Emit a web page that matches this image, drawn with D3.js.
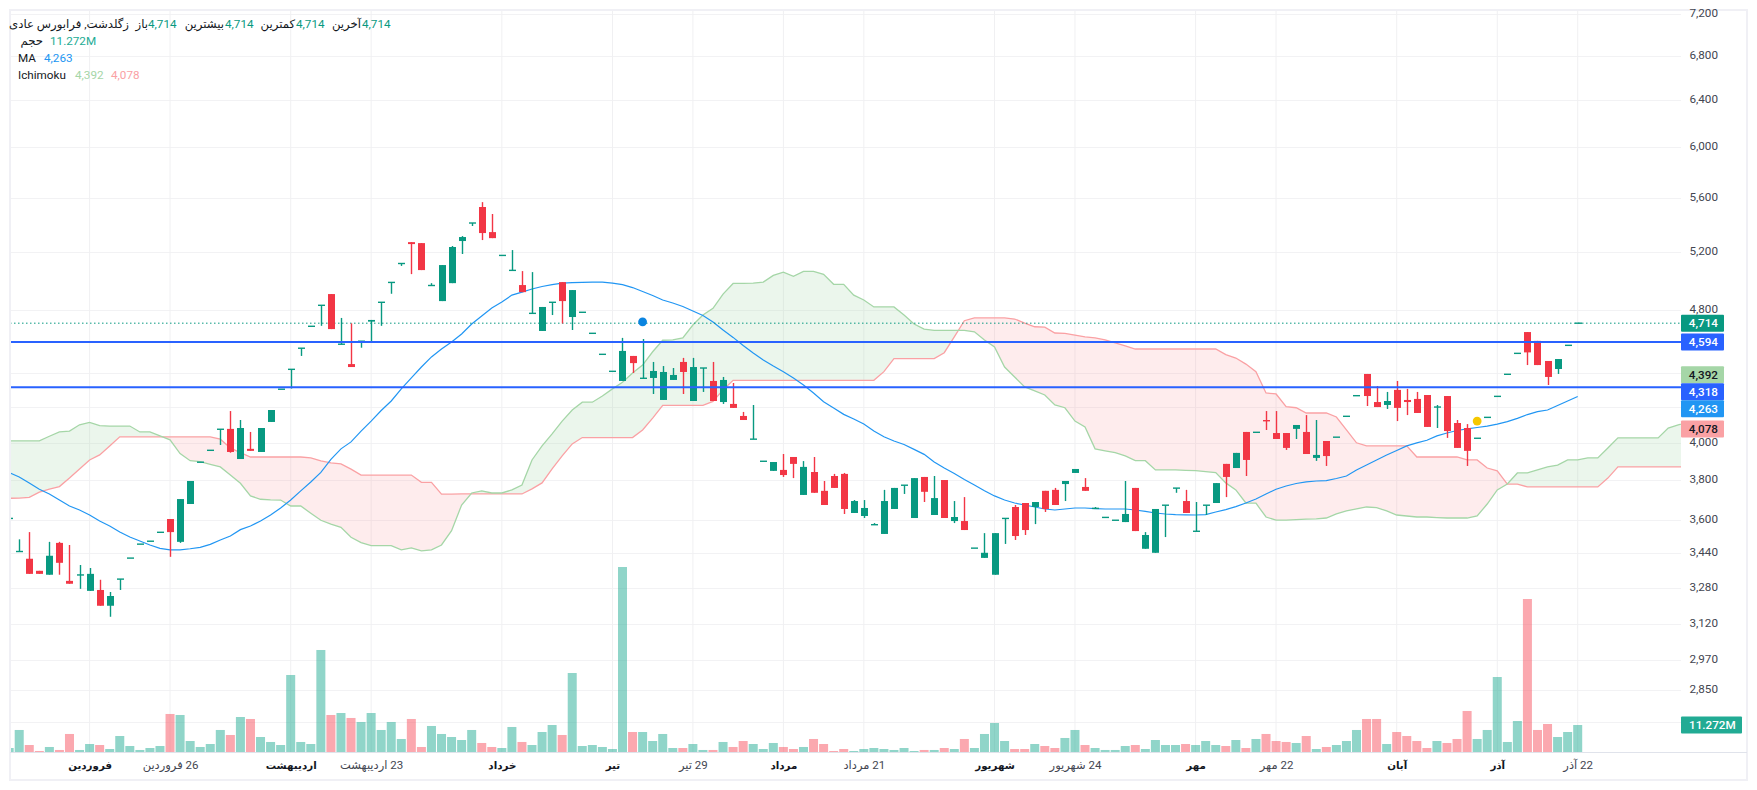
<!DOCTYPE html>
<html>
<head>
<meta charset="utf-8">
<script src="https://cdn.jsdelivr.net/npm/d3@7"></script>
<style>
  body { margin: 0; background: #fff; }
  text { font-family: Roboto, "DejaVu Sans", sans-serif; }
</style>
</head>
<body>
<div id="chart"></div>
<script>
// price candles, ten per row
var opens = [
  3607,3447,3413,3357,3339,3488,3311,3338,3266,3270,
  3200,3319,3416,3482,3496,3539,3604,3493,3679,3896,
  3960,4076,4078,3913,3968,3951,4117,4306,4425,4555,
  4694,4831,4906,4580,4457,4599,4724,4851,4985,5116,
  5268,5261,4964,4859,4980,5276,5408,5528,5341,5173,
  5068,4967,4778,4664,4851,4987,4754,4785,4649,4517,
  4413,4355,4507,4371,4373,4243,4361,4470,4237,4433,
  4355,4231,4220,4151,4021,3901,3850,3855,3924,3725,
  3844,3746,3823,3834,3634,3619,3576,3531,3654,3775,
  3609,3818,3624,3802,3594,3594,3463,3417,3339,3607,
  3664,3684,3664,3746,3751,3781,3839,3766,3657,3612,
  3598,3589,3761,3460,3441,3673,3760,3694,3544,3673,
  3684,3887,3865,4061,4059,4128,4055,4055,4078,4061,
  3919,4011,4032,4149,4268,4397,4231,4214,4302,4243,
  4249,4272,4202,4266,4111,4083,4026,4143,4264,4395,
  4523,4657,4601,4476,4427,4573,4714
];
var highs = [
  3607,3505,3540,3357,3493,3493,3478,3384,3370,3316,
  3261,3319,3416,3482,3496,3539,3604,3704,3797,3896,
  3960,4076,4179,4128,4061,4083,4185,4306,4425,4555,
  4694,4831,4906,4748,4713,4599,4735,4851,4985,5116,
  5268,5261,4980,5105,5240,5312,5408,5565,5475,5173,
  5211,5063,5056,4820,4851,4987,4933,4785,4649,4517,
  4413,4620,4507,4613,4470,4445,4433,4495,4495,4433,
  4470,4379,4343,4174,4214,3901,3897,3940,3924,3902,
  3924,3797,3834,3839,3699,3699,3584,3751,3761,3775,
  3812,3818,3823,3802,3694,3714,3463,3535,3535,3607,
  3674,3684,3689,3746,3761,3797,3860,3812,3664,3612,
  3598,3797,3761,3540,3654,3673,3760,3751,3689,3673,
  3786,3887,3946,4061,4059,4179,4179,4055,4100,4156,
  4128,4011,4032,4149,4268,4397,4325,4290,4355,4308,
  4290,4272,4214,4266,4128,4105,4026,4143,4264,4395,
  4523,4657,4601,4476,4488,4573,4714
];
var lows = [
  3607,3447,3343,3343,3339,3339,3298,3275,3266,3200,
  3152,3270,3416,3482,3496,3539,3422,3488,3679,3896,
  3960,3989,3947,3913,3957,3951,4117,4306,4310,4507,
  4694,4697,4676,4580,4439,4558,4599,4697,4908,5099,
  5042,5070,4964,4859,4980,5183,5386,5283,5297,5173,
  5068,4919,4778,4664,4767,4712,4670,4785,4649,4517,
  4413,4355,4403,4371,4278,4243,4361,4278,4237,4290,
  4237,4220,4197,4128,4021,3901,3850,3818,3812,3725,
  3736,3674,3761,3629,3634,3609,3576,3531,3654,3730,
  3609,3689,3624,3609,3584,3550,3463,3417,3339,3483,
  3502,3526,3579,3639,3674,3694,3839,3746,3657,3612,
  3598,3589,3545,3460,3441,3516,3736,3634,3544,3624,
  3684,3714,3865,3823,4059,4072,4022,3962,4022,3940,
  3903,3876,4032,4149,4268,4208,4202,4191,4122,4156,
  4168,4089,4083,4028,3973,3876,4026,4143,4264,4395,
  4523,4451,4451,4331,4397,4573,4714
];
var closes = [
  3607,3447,3343,3343,3427,3394,3298,3338,3343,3200,
  3243,3319,3416,3482,3496,3539,3540,3704,3797,3896,
  3960,4076,3951,4083,3957,4083,4185,4306,4425,4555,
  4694,4831,4676,4580,4439,4599,4735,4851,4985,5116,
  5254,5070,4964,5105,5233,5305,5408,5334,5297,5173,
  5068,4919,4778,4820,4851,4859,4933,4785,4649,4517,
  4413,4538,4463,4371,4415,4409,4391,4409,4439,4433,
  4237,4361,4197,4128,4021,3901,3897,3828,3887,3871,
  3736,3674,3761,3654,3694,3659,3576,3694,3761,3775,
  3812,3741,3709,3609,3614,3550,3463,3441,3535,3607,
  3521,3550,3689,3654,3674,3797,3860,3746,3657,3612,
  3598,3629,3545,3526,3654,3673,3760,3634,3544,3673,
  3786,3818,3946,3908,4059,4122,4022,3973,4100,3940,
  3935,3929,4032,4149,4268,4266,4202,4237,4197,4231,
  4168,4089,4202,4066,3973,3957,4026,4143,4264,4395,
  4523,4529,4451,4379,4488,4573,4714
];

// volume in millions
var volumes = [
  1.67,9.19,2.92,0.42,2.09,0.84,7.52,0.84,3.34,2.92,
  1.25,6.68,2.50,0.84,1.67,2.50,15.87,15.45,4.59,2.09,
  3.34,9.19,7.10,14.61,13.78,6.26,4.18,2.92,32.15,4.18,
  3.34,42.59,15.45,16.28,14.20,12.53,16.28,9.19,12.53,5.43,
  13.78,2.09,10.86,7.52,6.26,5.01,9.19,3.76,2.09,1.67,
  10.44,4.18,2.92,8.35,11.27,7.10,32.98,2.50,2.92,2.09,
  1.25,77.24,8.35,8.35,4.59,7.52,1.67,1.67,3.34,0.84,
  0.84,4.18,2.09,4.59,3.34,1.25,3.76,2.09,1.25,2.09,
  5.43,3.34,0.42,1.25,0.42,1.25,1.67,1.25,0.84,1.67,
  0.42,0.84,0.84,1.67,1.25,5.43,1.67,7.52,12.11,4.59,
  1.25,1.25,3.34,2.50,1.67,5.85,9.19,2.92,1.67,0.84,
  0.84,2.50,2.92,1.25,5.01,2.92,2.92,3.34,2.92,4.59,
  2.92,2.50,5.01,1.67,5.43,7.52,4.59,4.18,3.76,6.68,
  1.25,2.09,2.92,4.59,9.19,13.78,13.78,3.34,8.35,6.68,
  4.59,1.67,4.59,3.76,5.43,17.12,5.43,9.19,31.31,4.18,
  12.94,63.88,9.19,11.69,6.26,8.35,11.27
];

var maValues = [
  3841,3818,3787,3754,3730,3699,3669,3649,3624,3594,
  3570,3540,3516,3497,3478,3462,3455,3455,3460,3467,
  3481,3502,3521,3552,3570,3594,3624,3659,3699,3746,
  3792,3842,3911,3968,4006,4066,4122,4182,4237,4308,
  4373,4439,4501,4550,4594,4645,4709,4761,4813,4853,
  4899,4919,4940,4957,4970,4980,4983,4985,4987,4987,
  4980,4970,4950,4923,4896,4866,4846,4823,4793,4764,
  4722,4670,4623,4572,4525,4482,4445,4411,4373,4331,
  4284,4233,4197,4160,4134,4105,4066,4034,4011,3992,
  3965,3938,3897,3865,3836,3805,3776,3746,3720,3699,
  3684,3674,3664,3654,3649,3654,3659,3659,3656,3654,
  3654,3654,3649,3642,3634,3629,3626,3625,3624,3626,
  3639,3651,3666,3684,3704,3730,3754,3771,3784,3792,
  3797,3799,3810,3823,3855,3881,3908,3935,3959,3984,
  4001,4015,4039,4055,4069,4078,4086,4094,4105,4119,
  4137,4159,4176,4185,4211,4237,4263
];

// ichimoku spans run past the last candle
var spanA = [
  4012,4012,4012,4012,4037,4061,4066,4101,4115,4096,
  4094,4094,4094,4061,4061,4039,4017,3942,3904,3899,
  3885,3871,3828,3785,3720,3703,3700,3699,3669,3669,
  3633,3598,3579,3563,3515,3489,3475,3475,3475,3455,
  3464,3450,3455,3478,3547,3674,3735,3746,3735,3735,
  3751,3776,3908,3984,4050,4122,4185,4230,4230,4266,
  4308,4347,4403,4451,4533,4605,4607,4620,4702,4767,
  4811,4906,4978,4978,4980,4987,5033,5056,5027,5061,
  5061,5040,4972,4972,4899,4866,4820,4820,4820,4767,
  4709,4676,4668,4668,4668,4668,4659,4607,4563,4439,
  4379,4320,4296,4272,4214,4198,4122,4089,3968,3957,
  3947,3930,3904,3904,3855,3855,3855,3853,3851,3846,
  3841,3787,3751,3684,3683,3614,3599,3599,3601,3604,
  3605,3609,3629,3644,3654,3664,3661,3644,3624,3619,
  3614,3614,3611,3609,3609,3609,3619,3679,3751,3781,
  3839,3839,3855,3871,3881,3908,3908,3919,3919,3973,
  4028,4028,4028,4028,4028,4083,4100,4117
];
var spanB = [
  3708,3709,3713,3739,3755,3768,3812,3860,3908,3935,
  3984,4034,4034,4034,4034,4034,4034,4034,4034,4034,
  4034,4021,3973,3947,3924,3924,3924,3924,3924,3924,
  3919,3903,3892,3887,3859,3828,3828,3828,3828,3828,
  3828,3790,3790,3729,3729,3730,3730,3730,3730,3730,
  3730,3730,3756,3787,3860,3930,3995,4030,4030,4030,
  4030,4030,4030,4072,4139,4212,4212,4212,4212,4212,
  4235,4302,4359,4359,4359,4359,4359,4359,4359,4359,
  4359,4359,4359,4359,4359,4359,4359,4411,4491,4491,
  4491,4491,4491,4527,4626,4730,4748,4748,4748,4748,
  4741,4715,4691,4689,4651,4648,4638,4626,4620,4607,
  4588,4569,4550,4550,4550,4550,4550,4550,4550,4550,
  4550,4515,4494,4457,4411,4284,4278,4204,4198,4168,
  4168,4168,4145,4072,4001,3984,3984,3984,3984,3984,
  3924,3924,3924,3924,3924,3908,3908,3865,3850,3781,
  3781,3766,3766,3766,3766,3766,3766,3766,3766,3812,
  3871,3871,3871,3871,3871,3871,3871,3871
];

var priceTicks = [7200,6800,6400,6000,5600,5200,4800,4600,4400,4200,4000,3800,3600,3440,3280,3120,2970,2850,2730];
var timeTickIndex = [8,16,28,36,49,60,68,77,85,98,106,118,126,138,148,156];
var timeTickLabels = ["فروردین","26 فروردین","اردیبهشت","23 اردیبهشت","خرداد","تیر","29 تیر","مرداد","21 مرداد","شهریور","24 شهریور","مهر","22 مهر","آبان","آذر","22 آذر"];
var monthTicks = ["فروردین","اردیبهشت","خرداد","تیر","مرداد","شهریور","مهر","آبان","آذر"];

var levelPrices = [4594, 4318];
var lastPrice = 4714;
var lastVolume = 11.272;
// price tags on the right, sorted from top to bottom
var tagValues = [4714, 4594, 4392, 4318, 4263, 4078];
var tagFills = ["#089981", "#2962ff", "#a5d6a7", "#2962ff", "#2196f3", "#faa1a4"];
var tagInk = ["#fff", "#fff", "#131722", "#fff", "#fff", "#131722"];
var signalIndex = [63, 146];
var signalPrice = [4723, 4122];
var signalColor = ["#0a84e0", "#f5c800"];

var svgWidth = 1757;
var svgHeight = 790;
var frame = { left: 10, top: 10, right: 1747, bottom: 780 };
var plotRight = 1681;
var plotBottom = 752;

var up = "#089981";
var down = "#f23645";

var svg = d3.select("#chart")
  .append("svg")
  .attr("width", svgWidth)
  .attr("height", svgHeight)
  .style("display", "block");

var x = d3.scaleLinear().domain([0, 156]).range([9.16, 1577.7]);
// log price axis, pinned on the 4800 and 3800 grid lines
var y = d3.scaleLog().domain([4800, 3800]).range([310, 480.4]);
var yVol = d3.scaleLinear().domain([0, 77.24]).range([plotBottom, plotBottom - 185]);

var fmt = d3.format(",");
var isUp = i => closes[i] >= opens[i];

svg.append("defs").append("clipPath").attr("id", "plot")
  .append("rect")
  .attr("x", frame.left + 1)
  .attr("y", frame.top + 1)
  .attr("width", plotRight - frame.left - 1)
  .attr("height", plotBottom - frame.top - 1);

// frame
svg.append("rect")
  .attr("x", frame.left)
  .attr("y", frame.top)
  .attr("width", frame.right - frame.left)
  .attr("height", frame.bottom - frame.top)
  .attr("fill", "#fff")
  .attr("stroke", "#f0f0f5")
  .attr("stroke-width", 2);

var plot = svg.append("g").attr("clip-path", "url(#plot)");

// grid
plot.selectAll(".hgrid").data(priceTicks).enter().append("line")
  .attr("x1", frame.left).attr("x2", plotRight)
  .attr("y1", d => Math.round(y(d)) + 0.5).attr("y2", d => Math.round(y(d)) + 0.5)
  .attr("stroke", "#f2f2f4").attr("stroke-width", 1);

plot.selectAll(".vgrid").data(timeTickIndex).enter().append("line")
  .attr("x1", d => x(d)).attr("x2", d => x(d))
  .attr("y1", frame.top).attr("y2", plotBottom)
  .attr("stroke", "#f0f0f2").attr("stroke-width", 1);

// volume
plot.selectAll(".vol").data(volumes).enter().append("rect")
  .attr("x", (d, i) => x(i) - 4.5)
  .attr("y", d => yVol(d))
  .attr("width", 9)
  .attr("height", d => plotBottom - yVol(d))
  .attr("fill", (d, i) => isUp(i) ? "#22ab94" : "#f7525f")
  .attr("opacity", 0.5);

// cloud: the two fills are split where the spans cross
var spanIdx = d3.range(spanA.length);
var defs = svg.select("defs");
defs.append("clipPath").attr("id", "aboveB").append("path")
  .attr("d", d3.area().x(i => x(i)).y0(0).y1(i => y(spanB[i]))(spanIdx));
defs.append("clipPath").attr("id", "belowB").append("path")
  .attr("d", d3.area().x(i => x(i)).y0(svgHeight).y1(i => y(spanB[i]))(spanIdx));

var cloudArea = d3.area().x(i => x(i)).y0(i => y(spanA[i])).y1(i => y(spanB[i]));

plot.append("g").attr("clip-path", "url(#aboveB)").append("path")
  .attr("d", cloudArea(spanIdx))
  .attr("fill", "#a5d6a7").attr("opacity", 0.22);
plot.append("g").attr("clip-path", "url(#belowB)").append("path")
  .attr("d", cloudArea(spanIdx))
  .attr("fill", "#faa1a4").attr("opacity", 0.2);

plot.append("path")
  .attr("d", d3.line().x(i => x(i)).y(i => y(spanB[i]))(spanIdx))
  .attr("fill", "none").attr("stroke", "#faa1a4").attr("stroke-width", 1.3);
plot.append("path")
  .attr("d", d3.line().x(i => x(i)).y(i => y(spanA[i]))(spanIdx))
  .attr("fill", "none").attr("stroke", "#a5d6a7").attr("stroke-width", 1.3);

// moving average
plot.append("path")
  .attr("d", d3.line().x((d, i) => x(i)).y(d => y(d))(maValues))
  .attr("fill", "none").attr("stroke", "#2196f3").attr("stroke-width", 1.2);

// last price line
plot.append("line")
  .attr("x1", frame.left).attr("x2", plotRight)
  .attr("y1", y(lastPrice)).attr("y2", y(lastPrice))
  .attr("stroke", up).attr("stroke-width", 1).attr("stroke-dasharray", "1.5 2.5");

// candles
var candleIdx = d3.range(opens.length);
plot.selectAll(".wick").data(candleIdx).enter().append("line")
  .attr("x1", i => Math.round(x(i)) + 0.5).attr("x2", i => Math.round(x(i)) + 0.5)
  .attr("y1", i => y(highs[i])).attr("y2", i => y(lows[i]))
  .attr("stroke", i => isUp(i) ? up : down)
  .attr("stroke-width", 1.4);

plot.selectAll(".body").data(candleIdx).enter().append("rect")
  .attr("x", i => Math.round(x(i)) - 3)
  .attr("width", 7)
  .attr("y", i => y(Math.max(opens[i], closes[i])) - (opens[i] === closes[i] ? 0.7 : 0))
  .attr("height", i => Math.max(1.4, y(Math.min(opens[i], closes[i])) - y(Math.max(opens[i], closes[i]))))
  .attr("fill", i => isUp(i) ? up : down);

// support and resistance lines
plot.selectAll(".level").data(levelPrices).enter().append("line")
  .attr("x1", frame.left).attr("x2", plotRight)
  .attr("y1", d => y(d)).attr("y2", d => y(d))
  .attr("stroke", "#2962ff").attr("stroke-width", 2);

// signal dots
plot.selectAll(".signal").data(signalIndex).enter().append("circle")
  .attr("cx", d => x(d))
  .attr("cy", (d, i) => y(signalPrice[i]))
  .attr("r", 4.4)
  .attr("fill", (d, i) => signalColor[i]);

// axis lines
svg.append("line")
  .attr("x1", frame.left).attr("x2", frame.right)
  .attr("y1", plotBottom + 0.5).attr("y2", plotBottom + 0.5)
  .attr("stroke", "#e0e3eb").attr("stroke-width", 1);

// price axis
var rightAxis = d3.axisRight(y).tickValues(priceTicks).tickFormat(fmt).tickSize(0);
var axisG = svg.append("g")
  .attr("transform", `translate(${plotRight}, 0)`)
  .call(rightAxis);
axisG.select(".domain").remove();
axisG.selectAll("text")
  .attr("x", 37)
  .attr("dy", "0.22em")
  .attr("text-anchor", "end")
  .attr("fill", "#434651")
  .attr("font-size", "11.7px")
  .style("font-family", "Roboto, sans-serif");

// time axis
var tickScale = d3.scaleOrdinal().domain(timeTickIndex).range(timeTickLabels);
var isMonth = d => monthTicks.indexOf(tickScale(d)) >= 0;
var bottomAxis = d3.axisBottom(x).tickValues(timeTickIndex).tickFormat(d => tickScale(d)).tickSize(0);
var timeG = svg.append("g")
  .attr("transform", `translate(0, ${plotBottom})`)
  .call(bottomAxis);
timeG.select(".domain").remove();
timeG.selectAll("text")
  .attr("y", 13)
  .attr("dy", "0.35em")
  .attr("text-anchor", "middle")
  .attr("fill", d => isMonth(d) ? "#131722" : "#434651")
  .attr("font-weight", d => isMonth(d) ? 700 : 400)
  .attr("font-size", d => isMonth(d) ? "10.3px" : "11.5px")
  .style("direction", "rtl")
  .style("font-family", "Roboto, 'DejaVu Sans', sans-serif");

// price tags, pushed down when they would overlap
var tagH = 17;
var tagY = [];
tagValues.forEach(function(v, i) {
  var c = y(v);
  if (i > 0 && c - tagY[i - 1] < tagH) { c = tagY[i - 1] + tagH; }
  tagY.push(c);
});

var tags = svg.selectAll(".tag").data(tagValues).enter().append("g")
  .attr("transform", (d, i) => `translate(${plotRight}, ${tagY[i]})`);
tags.append("rect")
  .attr("y", -tagH / 2)
  .attr("width", 43)
  .attr("height", tagH)
  .attr("rx", 1)
  .attr("fill", (d, i) => tagFills[i]);
tags.append("text")
  .attr("x", 37)
  .attr("dy", "0.35em")
  .attr("text-anchor", "end")
  .attr("font-size", "11.7px")
  .attr("font-weight", 500)
  .attr("fill", (d, i) => tagInk[i])
  .text(d => fmt(d));

// volume tag
var volTag = svg.append("g").attr("transform", `translate(${plotRight}, ${yVol(lastVolume)})`);
volTag.append("rect")
  .attr("y", -tagH / 2)
  .attr("width", 61)
  .attr("height", tagH)
  .attr("rx", 1)
  .attr("fill", "#22ab94");
volTag.append("text")
  .attr("x", 8)
  .attr("dy", "0.35em")
  .attr("font-size", "11.7px")
  .attr("font-weight", 500)
  .attr("fill", "#fff")
  .text(lastVolume + "M");

// legend
var legendFont = "11.7px";
function legendText(px, py, str, fill, anchor) {
  svg.append("text")
    .attr("x", px)
    .attr("y", py)
    .attr("text-anchor", anchor || "start")
    .attr("font-size", legendFont)
    .attr("fill", fill)
    .text(str);
}

var legendInk = "#131722";
legendText(129, 28, "زگلدشت, فرابورس عادی", legendInk, "end");
legendText(148, 28, "باز", legendInk, "end");
legendText(148, 28, fmt(opens[156]), up);
legendText(224, 28, "بیشترین", legendInk, "end");
legendText(225, 28, fmt(highs[156]), up);
legendText(295, 28, "کمترین", legendInk, "end");
legendText(296, 28, fmt(lows[156]), up);
legendText(361, 28, "آخرین", legendInk, "end");
legendText(362, 28, fmt(closes[156]), up);
legendText(43, 45, "حجم", legendInk, "end");
legendText(50, 45, lastVolume + "M", "#22ab94");
legendText(18, 62, "MA", legendInk);
legendText(44, 62, fmt(maValues[156]), "#2196f3");
legendText(18, 79, "Ichimoku", legendInk);
legendText(75, 79, "4,392", "#a5d6a7");
legendText(111, 79, "4,078", "#faa1a4");
</script>
</body>
</html>
